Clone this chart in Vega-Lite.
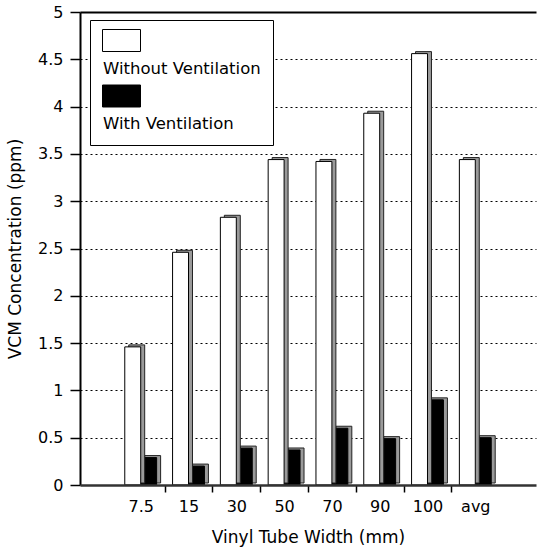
{
  "$schema": "https://vega.github.io/schema/vega-lite/v6.json",
  "width": 456,
  "height": 473,
  "autosize": {"type": "none"},
  "padding": {"left": 80, "top": 12, "right": 3, "bottom": 64},
  "background": "white",
  "config": {
    "view": {"stroke": null},
    "font": "DejaVu Sans",
    "axis": {
      "labelFont": "DejaVu Sans",
      "labelFontSize": 16,
      "labelColor": "black",
      "titleFont": "DejaVu Sans",
      "titleFontSize": 17,
      "titleFontWeight": "normal",
      "titleColor": "black",
      "tickColor": "black",
      "tickWidth": 1.5,
      "tickSize": 7,
      "domainColor": "black"
    }
  },
  "data": {
    "values": [
      {"width": "7.5", "series": "Without Ventilation", "value": 1.46},
      {"width": "7.5", "series": "With Ventilation", "value": 0.29},
      {"width": "15", "series": "Without Ventilation", "value": 2.46},
      {"width": "15", "series": "With Ventilation", "value": 0.2},
      {"width": "30", "series": "Without Ventilation", "value": 2.83},
      {"width": "30", "series": "With Ventilation", "value": 0.39},
      {"width": "50", "series": "Without Ventilation", "value": 3.44},
      {"width": "50", "series": "With Ventilation", "value": 0.37},
      {"width": "70", "series": "Without Ventilation", "value": 3.42},
      {"width": "70", "series": "With Ventilation", "value": 0.6},
      {"width": "90", "series": "Without Ventilation", "value": 3.93},
      {"width": "90", "series": "With Ventilation", "value": 0.49},
      {"width": "100", "series": "Without Ventilation", "value": 4.56},
      {"width": "100", "series": "With Ventilation", "value": 0.9},
      {"width": "avg", "series": "Without Ventilation", "value": 3.44},
      {"width": "avg", "series": "With Ventilation", "value": 0.5}
    ]
  },
  "encoding": {
    "x": {
      "field": "width",
      "type": "nominal",
      "scale": {"domain": ["7.5", "15", "30", "50", "70", "90", "100", "avg"], "paddingInner": 0, "paddingOuter": 0.77},
      "axis": {
        "title": "Vinyl Tube Width (mm)",
        "labelAngle": 0,
        "tickBand": "extent",
        "labelPadding": 6,
        "titlePadding": 15,
        "domainColor": "#333",
        "domainWidth": 2.5,
        "tickOpacity": {"condition": {"test": "datum.value == 'avg' || datum.extra", "value": 0}, "value": 1},
        "grid": false,
        "zindex": 1
      }
    },
    "y": {
      "field": "value",
      "type": "quantitative",
      "scale": {"domain": [0, 5], "nice": false},
      "axis": {
        "title": "VCM Concentration (ppm)",
        "values": [0, 0.5, 1, 1.5, 2, 2.5, 3, 3.5, 4, 4.5, 5],
        "format": "~g",
        "tickSize": 10,
        "labelPadding": 7,
        "titlePadding": 13,
        "domainWidth": 2,
        "grid": true,
        "gridColor": "black",
        "gridDash": {"condition": {"test": "datum.value == 5", "value": []}, "value": [2, 3]},
        "gridWidth": {"condition": {"test": "datum.value == 5", "value": 2}, "value": 1},
        "gridOpacity": {"condition": {"test": "datum.value == 0", "value": 0}, "value": 1}
      }
    }
  },
  "resolve": {"scale": {"xOffset": "independent"}},
  "layer": [
    {
      "transform": [{"filter": "datum.series == 'With Ventilation'"}],
      "mark": {"type": "bar", "yOffset": -2, "fill": "#9a9a9a", "stroke": "#222", "strokeWidth": 1},
      "encoding": {
        "xOffset": {
          "field": "series",
          "type": "nominal",
          "scale": {"domain": ["Without Ventilation", "With Ventilation"], "paddingInner": 0, "paddingOuter": 0.5, "align": 0.75}
        }
      }
    },
    {
      "transform": [{"filter": "datum.series == 'With Ventilation'"}],
      "mark": {"type": "bar", "stroke": "black", "strokeWidth": 1},
      "encoding": {
        "xOffset": {
          "field": "series",
          "type": "nominal",
          "scale": {"domain": ["Without Ventilation", "With Ventilation"], "paddingInner": 0, "paddingOuter": 0.5}
        },
        "color": {
          "field": "series",
          "type": "nominal",
          "scale": {"domain": ["Without Ventilation", "With Ventilation"], "range": ["white", "black"]},
          "legend": {
            "title": "                                                    ",
            "titleFontSize": 10,
            "titlePadding": 16,
            "orient": "none",
            "legendX": 10,
            "legendY": 8,
            "padding": 12,
            "fillColor": "white",
            "strokeColor": "black",
            "symbolType": "M-1,-3.9H2.8V-1.7H-1Z",
            "symbolSize": 400,
            "symbolStrokeColor": "black",
            "symbolStrokeWidth": 1,
            "symbolOpacity": 1,
            "labelOffset": -20,
            "labelFont": "DejaVu Sans",
            "labelFontSize": 16.5,
            "labelColor": "black",
            "labelLimit": 300,
            "rowPadding": 5.5
          }
        }
      }
    },
    {
      "transform": [{"filter": "datum.series == 'Without Ventilation'"}],
      "mark": {"type": "bar", "yOffset": -2, "fill": "#9a9a9a", "stroke": "#222", "strokeWidth": 1},
      "encoding": {
        "xOffset": {
          "field": "series",
          "type": "nominal",
          "scale": {"domain": ["Without Ventilation", "With Ventilation"], "paddingInner": 0, "paddingOuter": 0.5, "align": 0.75}
        }
      }
    },
    {
      "transform": [{"filter": "datum.series == 'Without Ventilation'"}],
      "mark": {"type": "bar", "stroke": "black", "strokeWidth": 1},
      "encoding": {
        "xOffset": {
          "field": "series",
          "type": "nominal",
          "scale": {"domain": ["Without Ventilation", "With Ventilation"], "paddingInner": 0, "paddingOuter": 0.5}
        },
        "color": {
          "field": "series",
          "type": "nominal",
          "scale": {"domain": ["Without Ventilation", "With Ventilation"], "range": ["white", "black"]}
        }
      }
    }
  ]
}
